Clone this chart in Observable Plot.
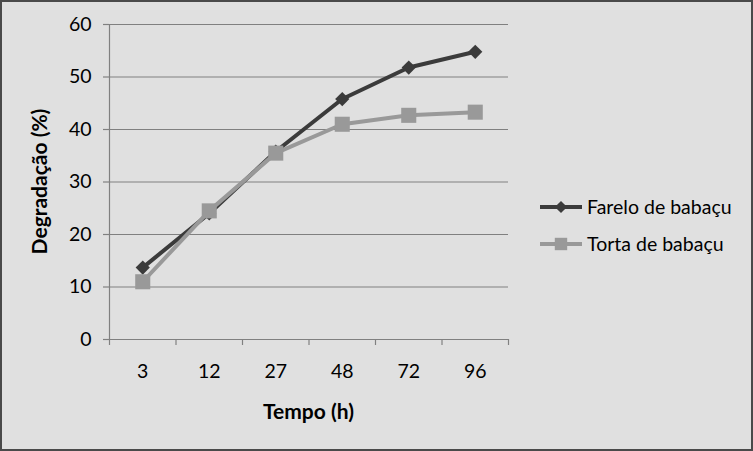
<!DOCTYPE html>
<html><head><meta charset="utf-8">
<script src="https://cdn.jsdelivr.net/npm/d3@7"></script>
<script src="https://cdn.jsdelivr.net/npm/@observablehq/plot@0.6"></script>
<style>
body{margin:0;background:#e0e0e0;}
#chart{position:relative;width:753px;height:451px;background:#e0e0e0;overflow:hidden;}
#chart svg{position:absolute;left:0;top:0;}
#frame{position:absolute;left:0;top:0;width:753px;height:451px;box-sizing:border-box;border:2px solid #4a4a4a;pointer-events:none;}
</style></head><body>
<div id="chart"><div id="frame"></div></div>
<script>
const categories = ["3","12","27","48","72","96"];
const farelo = [13.7, 24.0, 35.8, 45.8, 51.8, 54.8];
const torta = [11.0, 24.5, 35.5, 41.0, 42.7, 43.3];
const yTicks = [0, 10, 20, 30, 40, 50, 60];
const seriesNames = ["Farelo de babaçu", "Torta de babaçu"];
const seriesColors = ["#3b3b3b", "#999999"];
const xTitle = "Tempo (h)";
const yTitle = "Degradação (%)";

const font = "Lato, 'Open Sans', sans-serif";
const rows = [];
[farelo, torta].forEach((vals, s) => vals.forEach((v, i) => rows.push({i, pos: i + 0.5, cat: categories[i], value: v, series: seriesNames[s]})));
const fareloRows = rows.filter(d => d.series === seriesNames[0]);
const tortaRows = rows.filter(d => d.series === seriesNames[1]);

const W = 753, H = 451, mL = 109, mR = 245, mT = 24, mB = 112;
const grid = "#808080";
const fs = 19.5;

const plot = Plot.plot({
  width: W, height: H,
  marginLeft: mL, marginRight: mR, marginTop: mT, marginBottom: mB,
  style: {background: "transparent", fontFamily: font, fontSize: fs + "px", color: "#000", overflow: "visible"},
  x: {type: "linear", domain: [0, categories.length], axis: null},
  y: {domain: [0, 60], axis: null},
  marks: [
    Plot.ruleY(yTicks, {stroke: grid, strokeWidth: 1.2}),
    Plot.axisY(yTicks, {tickSize: 6, tickPadding: 12, stroke: grid, strokeWidth: 1.2, fill: "#000", label: null, fontSize: fs}),
    Plot.ruleX([0], {stroke: grid, strokeWidth: 1.2}),
    Plot.axisX(d3.range(categories.length + 1), {tickSize: 6, tickFormat: () => "", stroke: grid, strokeWidth: 1.2, label: null}),
    Plot.axisX(categories.map((c, i) => i + 0.5), {tickSize: 0, tickPadding: 25, tickFormat: v => categories[Math.floor(v)], fill: "#000", label: null, fontSize: fs}),
    Plot.line(fareloRows, {x: "pos", y: "value", stroke: seriesColors[0], strokeWidth: 4}),
    Plot.dot(fareloRows, {x: "pos", y: "value", symbol: "diamond2", r: 6.4, fill: seriesColors[0], stroke: "none"}),
    Plot.line(tortaRows, {x: "pos", y: "value", stroke: seriesColors[1], strokeWidth: 4}),
    Plot.dot(tortaRows, {x: "pos", y: "value", symbol: "square", r: 8.5, fill: seriesColors[1], stroke: "none"})
  ]
});

const chart = document.getElementById("chart");
chart.insertBefore(plot, chart.firstChild);

const svg = d3.select(plot);
// axis titles
svg.append("text").attr("x", mL + (W - mL - mR) / 2).attr("y", 419)
  .attr("text-anchor", "middle").attr("font-family", font).attr("font-weight", "bold").attr("font-size", 21).attr("fill", "#000").text(xTitle);
svg.append("text").attr("transform", `translate(47,${mT + (H - mT - mB) / 2}) rotate(-90)`)
  .attr("text-anchor", "middle").attr("font-family", font).attr("font-weight", "bold").attr("font-size", 21).attr("fill", "#000").text(yTitle);

// legend
const symbols = [d3.symbol(d3.symbolDiamond2, 5.5 * 5.5 * Math.PI), d3.symbol(d3.symbolSquare, 7 * 7 * Math.PI)];
seriesNames.forEach((name, s) => {
  const cy = 207 + s * 37;
  const g = svg.append("g").attr("transform", `translate(540,${cy})`);
  g.append("line").attr("x1", 0).attr("x2", 42).attr("y1", 0).attr("y2", 0).attr("stroke", seriesColors[s]).attr("stroke-width", 4);
  g.append("path").attr("d", symbols[s]()).attr("transform", "translate(21,0)").attr("fill", seriesColors[s]);
  g.append("text").attr("x", 47).attr("y", 0).attr("dy", "0.35em").attr("text-anchor", "start").attr("font-family", font).attr("font-size", fs).attr("fill", "#000").text(name);
});
</script>
</body></html>
